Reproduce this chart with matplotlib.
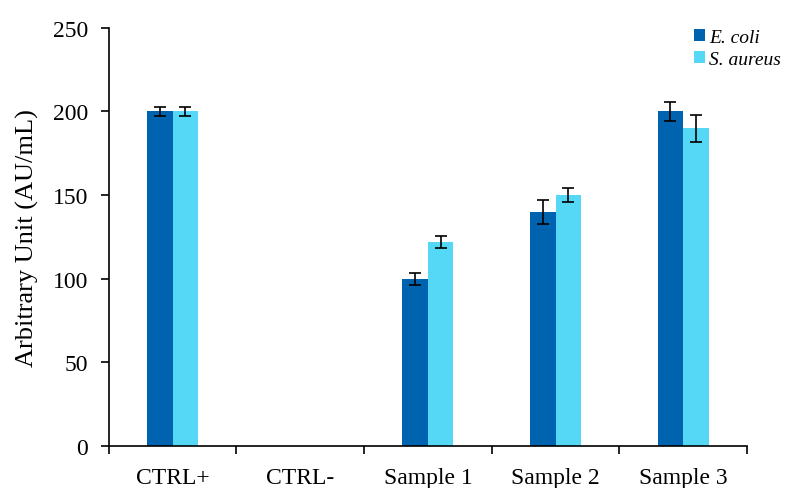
import matplotlib.pyplot as plt
import numpy as np

categories = ["CTRL+", "CTRL-", "Sample 1", "Sample 2", "Sample 3"]
ecoli = [200, 0, 100, 140, 200]
ecoli_err = [2.8, 0, 3.6, 7, 5.4]
saureus = [200, 0, 122, 150, 190]
saureus_err = [2.8, 0, 3.8, 4, 8]

plt.rcParams["font.family"] = ["Liberation Serif", "DejaVu Serif"]

fig = plt.figure(figsize=(7.88, 4.89), dpi=100)
ax = fig.add_axes([0.138, 0.086, 0.81, 0.855])

x = np.arange(len(categories))
w = 0.2
err_kw = dict(ecolor="black", capsize=4, elinewidth=1.2, capthick=1.2)
for vals, errs, off, color, label in [
    (ecoli, ecoli_err, -w / 2, "#0063AF", "E. coli"),
    (saureus, saureus_err, w / 2, "#55D8F6", "S. aureus"),
]:
    ax.bar(x + off, vals, w, color=color, label=label)
    # CTRL- has no bars, so no error bars either
    idx = [i for i, v in enumerate(vals) if v > 0]
    ax.errorbar(x[idx] + off, [vals[i] for i in idx], yerr=[errs[i] for i in idx],
                fmt="none", **err_kw)

ax.set_xlim(-0.5, len(categories) - 0.5)
ax.set_ylim(0, 250)
ax.set_yticks(range(0, 251, 50))
ax.set_xticks(x)
ax.set_xticklabels(categories)
ax.set_xticks(np.arange(-0.5, len(categories)), minor=True)
ax.tick_params(axis="x", which="major", length=0, pad=15, labelsize=17)
ax.tick_params(axis="x", which="minor", length=6, width=1.2, direction="out")
ax.tick_params(axis="y", length=6, width=1.2, direction="out", pad=9, labelsize=17)
ax.set_ylabel("Arbitrary Unit (AU/mL)", fontsize=19, labelpad=10)

for s in ["top", "right"]:
    ax.spines[s].set_visible(False)
for s in ["left", "bottom"]:
    ax.spines[s].set_linewidth(1.2)

fig.legend(loc="upper right", bbox_to_anchor=(1.013, 0.975), frameon=False,
           prop={"style": "italic", "size": 14}, handlelength=0.55,
           handleheight=0.55, handletextpad=0.2, labelspacing=0.25)

fig.savefig("out.png", dpi=100)
